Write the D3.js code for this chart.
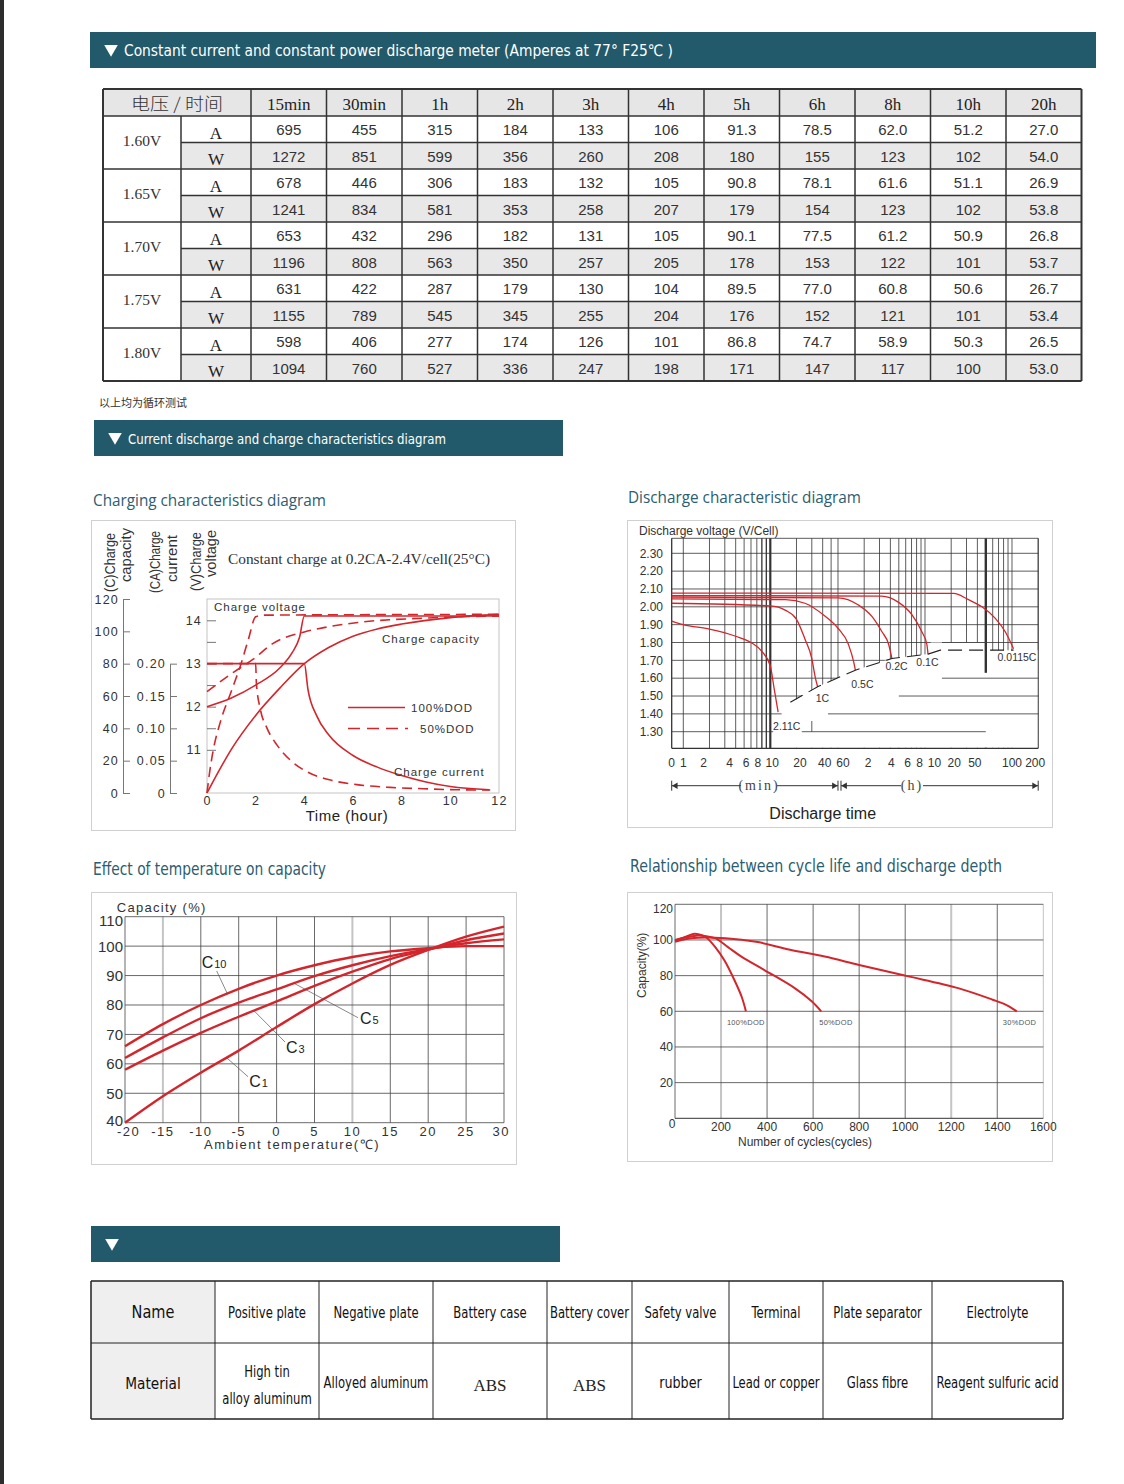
<!DOCTYPE html>
<html>
	<head>
		<meta charset="utf-8">
		<title>Battery discharge and charge characteristics</title>
		<style>
* {
	margin: 0;
	padding: 0;
}
html,
body {
	background-color: #fff;
	width: 1124px;
	height: 1484px;
	overflow: hidden;
}
svg {
	display: block;
}
		</style>
	</head>
	<body>
		<div id="page"></div>
		<script src="https://d3js.org/d3.v7.min.js"></script>
		<script>

// ---- discharge meter table ----
var timeLabels = [ '15min', '30min', '1h', '2h', '3h', '4h', '5h', '6h', '8h', '10h', '20h' ];
var cutoffVoltages = [ '1.60V', '1.65V', '1.70V', '1.75V', '1.80V' ];
var amps = [
	[ '695', '455', '315', '184', '133', '106', '91.3', '78.5', '62.0', '51.2', '27.0' ],
	[ '678', '446', '306', '183', '132', '105', '90.8', '78.1', '61.6', '51.1', '26.9' ],
	[ '653', '432', '296', '182', '131', '105', '90.1', '77.5', '61.2', '50.9', '26.8' ],
	[ '631', '422', '287', '179', '130', '104', '89.5', '77.0', '60.8', '50.6', '26.7' ],
	[ '598', '406', '277', '174', '126', '101', '86.8', '74.7', '58.9', '50.3', '26.5' ]
];
var watts = [
	[ '1272', '851', '599', '356', '260', '208', '180', '155', '123', '102', '54.0' ],
	[ '1241', '834', '581', '353', '258', '207', '179', '154', '123', '102', '53.8' ],
	[ '1196', '808', '563', '350', '257', '205', '178', '153', '122', '101', '53.7' ],
	[ '1155', '789', '545', '345', '255', '204', '176', '152', '121', '101', '53.4' ],
	[ '1094', '760', '527', '336', '247', '198', '171', '147', '117', '100', '53.0' ]
];

// ---- charging characteristics (time in hours) ----
var hourTicks = [ 0, 2, 4, 6, 8, 10, 12 ];
var capTicks = [ 0, 20, 40, 60, 80, 100, 120 ];
var curTicks = [ 0, 0.05, 0.10, 0.15, 0.20 ];
var voltTicks = [ 11, 11.5, 12, 12.5, 13, 13.5, 14 ];
var voltage100 = [ [ 0, 12.0 ], [ 1, 12.2 ], [ 2, 12.5 ], [ 3, 12.9 ], [ 3.5, 13.25 ], [ 3.8, 13.6 ], [ 4, 14.1 ], [ 12, 14.1 ] ];
var current100 = [ [ 0, 0.2 ], [ 4, 0.2 ], [ 4.15, 0.16 ], [ 4.5, 0.12 ], [ 5, 0.09 ], [ 6, 0.058 ], [ 7, 0.04 ], [ 8, 0.027 ], [ 9, 0.017 ], [ 10, 0.01 ], [ 11.6, 0.005 ] ];
var capacity100 = [ [ 0, 0 ], [ 0.5, 14 ], [ 1, 27 ], [ 2, 48 ], [ 3, 65 ], [ 4, 80 ], [ 5, 90 ], [ 6, 97 ], [ 7, 101.5 ], [ 8, 104.5 ], [ 10, 108.5 ], [ 12, 110.5 ] ];
var voltage50 = [ [ 0, 12.35 ], [ 1.1, 12.8 ], [ 1.9, 13.1 ], [ 2.7, 13.46 ], [ 4, 13.73 ], [ 4.8, 13.83 ], [ 6.2, 13.95 ], [ 8.9, 14.05 ], [ 12, 14.1 ] ];
var current50 = [ [ 0, 0.2 ], [ 2, 0.2 ], [ 2.03, 0.17 ], [ 2.19, 0.13 ], [ 2.47, 0.1 ], [ 2.88, 0.074 ], [ 3.42, 0.051 ], [ 4.1, 0.033 ], [ 5.07, 0.02 ], [ 6.16, 0.013 ], [ 7.53, 0.0087 ], [ 8.9, 0.0066 ], [ 10.27, 0.005 ], [ 11.64, 0.0046 ] ];
var capacity50 = [ [ 0, 0 ], [ 0.1, 12 ], [ 0.25, 26 ], [ 0.55, 44 ], [ 1, 63 ], [ 1.4, 80 ], [ 1.7, 95 ], [ 2, 109 ], [ 2.3, 110 ], [ 12, 110.5 ] ];

// ---- discharge characteristics (time in minutes) ----
var dischargeVoltTicks = [ 1.3, 1.4, 1.5, 1.6, 1.7, 1.8, 1.9, 2.0, 2.1, 2.2, 2.3 ];
var minuteLabels = [ 0, 1, 2, 4, 6, 8, 10, 20, 40, 60 ];
var hourLabels = [ 2, 4, 6, 8, 10, 20, 50, 100, 200 ];
var minuteGrid = [ 1, 2, 3, 4, 5, 6, 7, 8, 9, 10, 20, 30, 40, 50 ];
var hourGrid = [ 1, 2, 3, 4, 5, 6, 7, 8, 9, 10, 20, 30, 40, 50, 60, 70, 80, 90, 100 ];
var rateNames = [ '2.11C', '1C', '0.5C', '0.2C', '0.1C', '0.0115C' ];
var rate211 = [ [ 0, 1.92 ], [ 1, 1.90 ], [ 2, 1.875 ], [ 4, 1.835 ], [ 6, 1.80 ], [ 8, 1.75 ], [ 10, 1.67 ], [ 11, 1.55 ], [ 12.3, 1.41 ] ];
var rate1 = [ [ 0, 2.02 ], [ 10, 2.005 ], [ 15, 1.98 ], [ 20, 1.93 ], [ 25, 1.82 ], [ 30, 1.71 ], [ 33, 1.6 ], [ 35, 1.552 ] ];
var rate05 = [ [ 0, 2.045 ], [ 15, 2.04 ], [ 25, 2.02 ], [ 42, 1.95 ], [ 60, 1.88 ], [ 79, 1.79 ], [ 91, 1.69 ], [ 95, 1.645 ] ];
var rate02 = [ [ 0, 2.055 ], [ 60, 2.05 ], [ 103, 2.01 ], [ 148, 1.945 ], [ 192, 1.86 ], [ 229, 1.79 ], [ 250, 1.71 ] ];
var rate01 = [ [ 0, 2.063 ], [ 190, 2.06 ], [ 298, 2.025 ], [ 426, 1.955 ], [ 552, 1.86 ], [ 630, 1.79 ], [ 650, 1.735 ] ];
var rate00115 = [ [ 0, 2.077 ], [ 1280, 2.075 ], [ 1900, 2.04 ], [ 2710, 2.0 ], [ 3860, 1.935 ], [ 5020, 1.86 ], [ 6250, 1.765 ] ];
var cutoffLine = [ [ 17, 1.465 ], [ 35, 1.552 ], [ 95, 1.645 ], [ 250, 1.71 ], [ 650, 1.735 ], [ 900, 1.757 ], [ 6250, 1.757 ] ];

// ---- temperature vs capacity ----
var tempTicks = [ -20, -15, -10, -5, 0, 5, 10, 15, 20, 25, 30 ];
var pctTicks = [ 40, 50, 60, 70, 80, 90, 100, 110 ];
var capC10 = [ [ -20, 66 ], [ -15, 73.5 ], [ -10, 80 ], [ -5, 85.5 ], [ 0, 90 ], [ 5, 93.5 ], [ 10, 96.3 ], [ 15, 98.2 ], [ 20, 99.3 ], [ 25, 100 ], [ 30, 100 ] ];
var capC5 = [ [ -20, 62 ], [ -15, 69 ], [ -10, 75.5 ], [ -5, 80.8 ], [ 0, 85.3 ], [ 5, 89.8 ], [ 10, 93.5 ], [ 15, 96.6 ], [ 20, 99 ], [ 25, 101 ], [ 30, 102.3 ] ];
var capC3 = [ [ -20, 58 ], [ -15, 64.5 ], [ -10, 70.5 ], [ -5, 76 ], [ 0, 81.2 ], [ 5, 86.5 ], [ 10, 91.3 ], [ 15, 95.6 ], [ 20, 98.8 ], [ 25, 102 ], [ 30, 104.3 ] ];
var capC1 = [ [ -20, 40 ], [ -15, 49 ], [ -10, 57 ], [ -5, 64.5 ], [ 0, 72.5 ], [ 5, 80.3 ], [ 10, 87.3 ], [ 15, 93.6 ], [ 20, 98.7 ], [ 25, 103.2 ], [ 30, 106.6 ] ];

// ---- cycle life ----
var cycleTicks = [ 0, 200, 400, 600, 800, 1000, 1200, 1400, 1600 ];
var cyclePctTicks = [ 20, 40, 60, 80, 100, 120 ];
var dod100 = [ [ 0, 99.5 ], [ 50, 102 ], [ 85, 103.5 ], [ 120, 102.5 ], [ 140, 101 ], [ 175, 96 ], [ 215, 88.5 ], [ 260, 77 ], [ 290, 68 ], [ 308, 60 ] ];
var dod50 = [ [ 0, 100 ], [ 50, 101.5 ], [ 100, 102.5 ], [ 140, 102 ], [ 175, 101 ], [ 230, 96 ], [ 290, 90.5 ], [ 390, 83 ], [ 520, 73 ], [ 595, 65.5 ], [ 635, 60 ] ];
var dod30 = [ [ 0, 99 ], [ 70, 101 ], [ 220, 101 ], [ 360, 98.8 ], [ 500, 94.5 ], [ 650, 90.7 ], [ 800, 86 ], [ 1000, 80 ], [ 1230, 73 ], [ 1380, 66.5 ], [ 1440, 63.5 ], [ 1485, 60 ] ];

// ---- materials ----
var partNames = [ 'Positive plate', 'Negative plate', 'Battery case', 'Battery cover', 'Safety valve', 'Terminal', 'Plate separator', 'Electrolyte' ];
var partMaterials = [ 'High tin|alloy aluminum', 'Alloyed aluminum', 'ABS', 'ABS', 'rubber', 'Lead or copper', 'Glass fibre', 'Reagent sulfuric acid' ];


var RED = '#d3262c';
var TEAL = '#225a6b';
var INK = '#2c5d70';
var NARROW = '"Liberation Sans Narrow", "DejaVu Sans Condensed", sans-serif';
var SERIF = '"Liberation Serif", "Times New Roman", "Noto Sans CJK SC", serif';
var SANS = '"Liberation Sans", Arial, sans-serif';

var svg = d3.select( '#page' ).append( 'svg' )
	.attr( 'width', 1124 )
	.attr( 'height', 1484 );

svg.append( 'rect' )
	.attr( 'x', 0 ).attr( 'y', 0 )
	.attr( 'width', 4 ).attr( 'height', 1484 )
	.attr( 'fill', '#2d2d2d' );

function label( g, x, y, str, size, opts ) {
	opts = opts || {};
	var t = g.append( 'text' )
		.attr( 'x', x )
		.attr( 'y', y )
		.attr( 'font-size', size )
		.attr( 'font-family', opts.family || SANS )
		.attr( 'fill', opts.fill || '#222' )
		.attr( 'text-anchor', opts.anchor || 'start' )
		.text( str );
	if ( opts.spacing ) t.attr( 'letter-spacing', opts.spacing );
	if ( opts.len ) t.attr( 'textLength', opts.len ).attr( 'lengthAdjust', 'spacingAndGlyphs' );
	if ( opts.squeeze ) {
		var w = t.node().getComputedTextLength();
		t.attr( 'textLength', w * opts.squeeze ).attr( 'lengthAdjust', 'spacingAndGlyphs' );
	}
	if ( opts.rotate ) t.attr( 'transform', 'rotate(-90,' + x + ',' + y + ')' );
	return t;
}

function sectionBar( x, y, w, title, size, len ) {
	svg.append( 'rect' )
		.attr( 'x', x ).attr( 'y', y )
		.attr( 'width', w ).attr( 'height', 36 )
		.attr( 'fill', TEAL );
	svg.append( 'path' )
		.attr( 'd', d3.symbol( d3.symbolTriangle, 80 )() )
		.attr( 'transform', 'translate(' + ( x + 21 ) + ',' + ( y + 17 ) + ') rotate(180)' )
		.attr( 'fill', '#fff' );
	if ( title ) {
		label( svg, x + 34, y + 23.5, title, size, { family: NARROW, fill: '#fff', len: len } );
	}
}

function box( x, y, w, h ) {
	svg.append( 'rect' )
		.attr( 'x', x ).attr( 'y', y )
		.attr( 'width', w ).attr( 'height', h )
		.attr( 'fill', 'none' )
		.attr( 'stroke', '#d0d0d0' );
}

function styleAxis( g, size, spacing ) {
	g.selectAll( 'text' )
		.attr( 'font-family', SANS )
		.attr( 'font-size', size )
		.attr( 'fill', '#333' )
		.attr( 'letter-spacing', spacing || 0 );
	g.selectAll( 'line' ).attr( 'stroke', '#777' );
	g.select( '.domain' ).attr( 'stroke', '#777' );
}

// =========== top section: discharge meter table ===========
sectionBar( 90, 32, 1006, 'Constant current and constant power discharge meter (Amperes at 77\u00b0  F25\u2103 )', 16, 549 );

var tableX = [ 103, 181, 251 ];
timeLabels.forEach( function ( d, i ) { tableX.push( 251 + ( i + 1 ) * 75.5 ); } );
var tableY = [ 89, 116 ];
for ( var r = 1; r <= 10; r++ ) tableY.push( 116 + r * 26.5 );
var tableRight = tableX[ tableX.length - 1 ];
var tableBottom = tableY[ tableY.length - 1 ];

var tbl = svg.append( 'g' );
tbl.append( 'rect' )
	.attr( 'x', 103 ).attr( 'y', 89 )
	.attr( 'width', tableRight - 103 ).attr( 'height', 27 )
	.attr( 'fill', '#e6e6e6' );
cutoffVoltages.forEach( function ( v, i ) {
	tbl.append( 'rect' )
		.attr( 'x', 181 ).attr( 'y', tableY[ 2 + i * 2 ] )
		.attr( 'width', tableRight - 181 ).attr( 'height', 26.5 )
		.attr( 'fill', '#e8e8e8' );
} );

tableY.forEach( function ( y, k ) {
	var full = k < 2 || k % 2 === 1;
	tbl.append( 'line' )
		.attr( 'x1', full ? 103 : 181 ).attr( 'x2', tableRight )
		.attr( 'y1', y ).attr( 'y2', y )
		.attr( 'stroke', '#333' )
		.attr( 'stroke-width', ( k === 0 || k === tableY.length - 1 ) ? 2 : 1.5 );
} );
tableX.forEach( function ( x, k ) {
	tbl.append( 'line' )
		.attr( 'x1', x ).attr( 'x2', x )
		.attr( 'y1', k === 1 ? 116 : 89 ).attr( 'y2', tableBottom )
		.attr( 'stroke', '#333' )
		.attr( 'stroke-width', ( k === 0 || k === tableX.length - 1 ) ? 2 : 1.5 );
} );

label( tbl, 177, 110, '\u7535\u538b / \u65f6\u95f4', 17, { family: '"Noto Sans CJK SC", serif', anchor: 'middle', fill: '#333', len: 92 } )
	.attr( 'font-weight', 300 );
timeLabels.forEach( function ( d, i ) {
	label( tbl, ( tableX[ i + 2 ] + tableX[ i + 3 ] ) / 2, 110, d, 17, { family: SERIF, anchor: 'middle', fill: '#222' } );
} );
cutoffVoltages.forEach( function ( v, i ) {
	var top = tableY[ 1 + i * 2 ];
	label( tbl, 142, top + 29.5, v, 15.5, { family: SERIF, anchor: 'middle', fill: '#333' } );
	label( tbl, 216, top + 22.5, 'A', 17, { family: SERIF, anchor: 'middle', fill: '#222' } );
	label( tbl, 216, top + 26.5 + 22, 'W', 17, { family: SERIF, anchor: 'middle', fill: '#222' } );
	amps[ i ].forEach( function ( d, j ) {
		label( tbl, ( tableX[ j + 2 ] + tableX[ j + 3 ] ) / 2, top + 19, d, 15, { anchor: 'middle', fill: '#333' } );
	} );
	watts[ i ].forEach( function ( d, j ) {
		label( tbl, ( tableX[ j + 2 ] + tableX[ j + 3 ] ) / 2, top + 26.5 + 19.2, d, 15, { anchor: 'middle', fill: '#333' } );
	} );
} );

label( svg, 99, 407, '\u4ee5\u4e0a\u5747\u4e3a\u5faa\u73af\u6d4b\u8bd5', 11, { family: '"Noto Sans CJK SC", sans-serif', fill: '#333' } );

// =========== section 2 ===========
sectionBar( 94, 420, 469, 'Current discharge and charge characteristics diagram', 14.5, 318 );

label( svg, 93, 506, 'Charging characteristics diagram', 17, { family: '"Open Sans", sans-serif', fill: INK, len: 233 } );
label( svg, 628, 503, 'Discharge characteristic diagram', 17, { family: '"Open Sans", sans-serif', fill: INK, len: 233 } );
label( svg, 93, 875, 'Effect of temperature on capacity', 17, { family: NARROW, fill: INK, len: 233 } );
label( svg, 630, 872, 'Relationship between cycle life and discharge depth', 17, { family: NARROW, fill: INK, len: 372 } );

box( 91.5, 520.5, 424, 310 );
box( 627.5, 520.5, 425, 307 );
box( 91.5, 892.5, 425, 272 );
box( 627.5, 892.5, 425, 269 );

// ---------- charging characteristics ----------
var c1 = svg.append( 'g' );
var xHour = d3.scaleLinear().domain( [ 0, 12 ] ).range( [ 207, 499 ] );
var yCap = d3.scaleLinear().domain( [ 0, 120 ] ).range( [ 793, 599 ] );
var yCur = d3.scaleLinear().domain( [ 0, 0.2 ] ).range( [ 793, yCap( 80 ) ] );
var yVolt = d3.scaleLinear().domain( [ 10, 14 ] ).range( [ 793, 620.3 ] );

c1.append( 'rect' )
	.attr( 'x', xHour( 0 ) ).attr( 'y', yCap( 120 ) )
	.attr( 'width', xHour( 12 ) - xHour( 0 ) ).attr( 'height', yCap( 0 ) - yCap( 120 ) )
	.attr( 'fill', 'none' )
	.attr( 'stroke', '#c4c4c4' );

var capAxis = c1.append( 'g' )
	.attr( 'transform', 'translate(123,0)' )
	.call( d3.axisRight( yCap ).tickValues( capTicks ).tickSize( 7 ).tickSizeOuter( 0 ) );
capAxis.selectAll( 'text' ).attr( 'x', -4 ).attr( 'text-anchor', 'end' );
styleAxis( capAxis, 12.5, 1.2 );

var curAxis = c1.append( 'g' )
	.attr( 'transform', 'translate(170,0)' )
	.call( d3.axisRight( yCur ).tickValues( curTicks ).tickSize( 7 ).tickSizeOuter( 0 ).tickFormat( function ( d ) { return d === 0 ? '0' : d3.format( '.2f' )( d ); } ) );
curAxis.selectAll( 'text' ).attr( 'x', -4 ).attr( 'text-anchor', 'end' );
styleAxis( curAxis, 12.5, 1.2 );

var voltAxis = c1.append( 'g' )
	.attr( 'transform', 'translate(207,0)' )
	.call( d3.axisRight( yVolt ).tickValues( voltTicks ).tickSize( 9 ).tickFormat( function ( d ) { return d % 1 ? '' : d; } ) );
voltAxis.select( '.domain' ).remove();
voltAxis.selectAll( 'text' ).attr( 'x', -5 ).attr( 'text-anchor', 'end' );
styleAxis( voltAxis, 12.5, 1.2 );

var timeAxis = c1.append( 'g' )
	.attr( 'transform', 'translate(0,793)' )
	.call( d3.axisBottom( xHour ).tickValues( hourTicks ).tickSize( 0 ) );
timeAxis.select( '.domain' ).remove();
styleAxis( timeAxis, 12.5, 1.2 );

var axisTitles = [
	[ 115, 592, '(C)Charge', 59 ], [ 131, 582, 'capacity', 54 ],
	[ 160, 593, '(CA)Charge', 62 ], [ 177, 582, 'current', 47 ],
	[ 201, 591, '(V)Charge', 59 ], [ 216, 577, 'voltage', 47 ]
];
axisTitles.forEach( function ( d ) {
	label( c1, d[ 0 ], d[ 1 ], d[ 2 ], 14, { fill: '#333', rotate: true, len: d[ 3 ] } );
} );
label( c1, 228, 564, 'Constant charge at 0.2CA-2.4V/cell(25\u00b0C)', 14, { family: SERIF, fill: '#333', len: 262 } );

var chargeSeries = [
	{ data: capacity100, y: yCap, dash: null },
	{ data: voltage100, y: yVolt, dash: null },
	{ data: current100, y: yCur, dash: null },
	{ data: capacity50, y: yCap, dash: '10,6' },
	{ data: voltage50, y: yVolt, dash: '10,6' },
	{ data: current50, y: yCur, dash: '10,6' }
];
chargeSeries.forEach( function ( s ) {
	var line = d3.line()
		.x( function ( d ) { return xHour( d[ 0 ] ); } )
		.y( function ( d ) { return s.y( d[ 1 ] ); } )
		.curve( d3.curveMonotoneX );
	c1.append( 'path' )
		.attr( 'd', line( s.data ) )
		.attr( 'fill', 'none' )
		.attr( 'stroke', RED )
		.attr( 'stroke-width', 1.6 )
		.attr( 'stroke-dasharray', s.dash );
} );

c1.append( 'line' ).attr( 'x1', 348 ).attr( 'x2', 405 ).attr( 'y1', 707.5 ).attr( 'y2', 707.5 )
	.attr( 'stroke', RED ).attr( 'stroke-width', 1.6 );
c1.append( 'line' ).attr( 'x1', 348 ).attr( 'x2', 408 ).attr( 'y1', 728.5 ).attr( 'y2', 728.5 )
	.attr( 'stroke', RED ).attr( 'stroke-width', 1.6 ).attr( 'stroke-dasharray', '12,7' );
label( c1, 411, 711.5, '100%DOD', 11.5, { fill: '#333', spacing: 1 } );
label( c1, 420, 733, '50%DOD', 11.5, { fill: '#333', spacing: 1 } );
label( c1, 214, 611, 'Charge voltage', 11.5, { fill: '#333', spacing: 1 } );
label( c1, 382, 643, 'Charge capacity', 11.5, { fill: '#333', spacing: 1 } );
label( c1, 394, 776, 'Charge current', 11.5, { fill: '#333', spacing: 1 } );
label( c1, 347, 821, 'Time (hour)', 15, { fill: '#222', anchor: 'middle', spacing: 0.5 } );

// ---------- discharge characteristics ----------
var c2 = svg.append( 'g' );
var minuteLog = d3.scaleLog().domain( [ 1, 10 ] ).range( [ 683.3, 770.3 ] );
var hourLog = d3.scaleLog().domain( [ 1, 10 ] ).range( [ minuteLog( 60 ), minuteLog( 60 ) + 87 ] );
function xTime( m ) {
	if ( m <= 1 ) return 671.7 + ( minuteLog( 1 ) - 671.7 ) * m;
	if ( m <= 60 ) return minuteLog( m );
	return hourLog( m / 60 );
}
var yDis = d3.scaleLinear().domain( [ 1.3, 2.3 ] ).range( [ 731.7, 553.3 ] );
var disLeft = xTime( 0 ), disRight = xTime( 12000 );

function gridH( v, m0, m1, w ) {
	c2.append( 'line' )
		.attr( 'x1', m0 === null ? disLeft : xTime( m0 ) ).attr( 'x2', m1 === null ? disRight : xTime( m1 ) )
		.attr( 'y1', yDis( v ) ).attr( 'y2', yDis( v ) )
		.attr( 'stroke', '#333' ).attr( 'stroke-width', w || 0.8 );
}
function gridV( m, v0, v1, w ) {
	c2.append( 'line' )
		.attr( 'x1', xTime( m ) ).attr( 'x2', xTime( m ) )
		.attr( 'y1', yDis( v0 ) ).attr( 'y2', yDis( v1 ) )
		.attr( 'stroke', '#333' ).attr( 'stroke-width', w || 0.8 );
}

dischargeVoltTicks.forEach( function ( v ) { gridH( v, null, null ); } );
gridH( 2.384, null, null );
minuteGrid.forEach( function ( m ) {
	gridV( m, 1.207, 2.384, m === 10 ? 2.2 : ( m === 8 || m === 9 ) ? 1.3 : 0.8 );
} );
hourGrid.forEach( function ( h ) {
	gridV( h * 60, 1.207, 2.384, h === 50 ? 2.4 : 0.8 );
} );
gridV( 12000, 1.207, 2.384 );

// white area under the end-voltage line, as in the printed chart
var maskArea = [ [ 10.8, 1.46 ], [ 17.6, 1.465 ], [ 35, 1.552 ], [ 95, 1.645 ], [ 250, 1.71 ], [ 650, 1.735 ], [ 700, 1.8 ], [ 3000, 1.8 ], [ 3000, 1.757 ], [ 12000, 1.757 ], [ 12000, 1.21 ], [ 10.8, 1.21 ] ];
c2.append( 'path' )
	.attr( 'd', d3.line().x( function ( d ) { return xTime( d[ 0 ] ); } ).y( function ( d ) { return yDis( d[ 1 ] ); } )( maskArea ) + 'Z' )
	.attr( 'fill', '#fff' );
gridH( 1.3, 23, 3000 );
gridH( 1.4, 10.8, 13.5 );
gridH( 1.4, 46, null );
gridH( 1.5, 300, null );
gridH( 1.6, 940, null );
gridH( 1.8, 940, 3000 );
gridV( 3000, 1.8, 1.63, 2.4 );
gridV( 30, 1.3, 1.36 );
gridV( 12000, 1.207, 2.384 );
gridH( 1.207, null, null, 1.3 );
gridV( 0, 1.207, 2.384, 1.3 );

var rates = [ rate211, rate1, rate05, rate02, rate01, rate00115 ];
var rateLabelOffsets = [ [ -5, 18 ], [ -2, 15 ], [ -4, 17.5 ], [ -6.5, 11.7 ], [ -11.7, 11.6 ], [ -16, 12 ] ];
var disLine = d3.line()
	.x( function ( d ) { return xTime( d[ 0 ] ); } )
	.y( function ( d ) { return yDis( d[ 1 ] ); } )
	.curve( d3.curveMonotoneX );
rates.forEach( function ( s, i ) {
	c2.append( 'path' )
		.attr( 'd', disLine( s ) )
		.attr( 'fill', 'none' )
		.attr( 'stroke', RED )
		.attr( 'stroke-width', 1.3 );
	var end = s[ s.length - 1 ];
	label( c2, xTime( end[ 0 ] ) + rateLabelOffsets[ i ][ 0 ], yDis( end[ 1 ] ) + rateLabelOffsets[ i ][ 1 ], rateNames[ i ], 10.5, { fill: '#333' } );
} );
c2.append( 'path' )
	.attr( 'd', d3.line().x( function ( d ) { return xTime( d[ 0 ] ); } ).y( function ( d ) { return yDis( d[ 1 ] ); } )( cutoffLine ) )
	.attr( 'fill', 'none' )
	.attr( 'stroke', '#222' )
	.attr( 'stroke-width', 1.1 )
	.attr( 'stroke-dasharray', '14,7' );

dischargeVoltTicks.forEach( function ( v ) {
	label( c2, 663, yDis( v ) + 4.3, v.toFixed( 2 ), 12, { anchor: 'end', fill: '#333' } );
} );
label( c2, 639, 535, 'Discharge voltage (V/Cell)', 12, { fill: '#333' } );

// label nudges follow the printed axis, which is not a strict log scale
var minuteNudge = [ 0, 0, -6, -6, -5, -4, 2, 3.5, 2, 5 ];
var hourNudge = [ 4, 1, 2, 3, 9.5, 3, -11, 0, -3 ];
minuteLabels.forEach( function ( m, i ) {
	label( c2, xTime( m ) + minuteNudge[ i ], 767, m, 12, { anchor: 'middle', fill: '#333' } );
} );
hourLabels.forEach( function ( h, i ) {
	label( c2, xTime( h * 60 ) + hourNudge[ i ], 767, h, 12, { anchor: 'middle', fill: '#333' } );
} );

function arrowHead( x, y, dir ) {
	c2.append( 'path' )
		.attr( 'd', d3.symbol( d3.symbolTriangle, 18 )() )
		.attr( 'transform', 'translate(' + x + ',' + y + ') rotate(' + dir + ')' )
		.attr( 'fill', '#333' );
}
var arrowY = 785.7;
var spans = [
	[ disLeft, 741, 777, xTime( 60 ) ],
	[ xTime( 60 ) + 3, 901, 923, disRight ]
];
spans.forEach( function ( s ) {
	c2.append( 'line' ).attr( 'x1', s[ 0 ] ).attr( 'x2', s[ 1 ] ).attr( 'y1', arrowY ).attr( 'y2', arrowY ).attr( 'stroke', '#333' );
	c2.append( 'line' ).attr( 'x1', s[ 2 ] ).attr( 'x2', s[ 3 ] ).attr( 'y1', arrowY ).attr( 'y2', arrowY ).attr( 'stroke', '#333' );
	c2.append( 'line' ).attr( 'x1', s[ 0 ] ).attr( 'x2', s[ 0 ] ).attr( 'y1', arrowY - 5 ).attr( 'y2', arrowY + 5 ).attr( 'stroke', '#333' );
	c2.append( 'line' ).attr( 'x1', s[ 3 ] ).attr( 'x2', s[ 3 ] ).attr( 'y1', arrowY - 5 ).attr( 'y2', arrowY + 5 ).attr( 'stroke', '#333' );
	arrowHead( s[ 0 ] + 4, arrowY, -90 );
	arrowHead( s[ 3 ] - 4, arrowY, 90 );
} );
label( c2, 759, arrowY + 4.5, '(min)', 14, { family: SERIF, anchor: 'middle', fill: '#444', spacing: 2 } );
label( c2, 912, arrowY + 4.5, '(h)', 14, { family: SERIF, anchor: 'middle', fill: '#444', spacing: 2 } );
label( c2, 822.7, 819, 'Discharge time', 16, { anchor: 'middle', fill: '#222' } );

// ---------- temperature vs capacity ----------
var c3 = svg.append( 'g' );
var xTemp = d3.scaleLinear().domain( [ -20, 30 ] ).range( [ 125, 504 ] );
var yPct = d3.scaleLinear().domain( [ 40, 110 ] ).range( [ 1122.7, 916.7 ] );

tempTicks.forEach( function ( t ) {
	var light = t === -15 || t === 10;
	c3.append( 'line' )
		.attr( 'x1', xTemp( t ) ).attr( 'x2', xTemp( t ) )
		.attr( 'y1', yPct( 40 ) ).attr( 'y2', yPct( 110 ) )
		.attr( 'stroke', light ? '#c4c4c4' : '#444' )
		.attr( 'stroke-width', light ? 2 : 0.8 );
} );
pctTicks.forEach( function ( p ) {
	c3.append( 'line' )
		.attr( 'x1', xTemp( -20 ) ).attr( 'x2', xTemp( 30 ) )
		.attr( 'y1', yPct( p ) ).attr( 'y2', yPct( p ) )
		.attr( 'stroke', '#444' )
		.attr( 'stroke-width', 0.8 );
	var shift = p === 110 ? 9.5 : ( p === 40 ? 3 : 5.5 );
	label( c3, 123, yPct( p ) + shift, p, 15, { anchor: 'end', fill: '#333' } );
} );
tempTicks.forEach( function ( t, i ) {
	var anchor = i === 0 ? 'start' : ( i === tempTicks.length - 1 ? 'end' : 'middle' );
	var x = i === 0 ? 117 : ( i === tempTicks.length - 1 ? 510 : xTemp( t ) );
	label( c3, x, 1136, t, 13, { anchor: anchor, fill: '#333', spacing: 1.5 } );
} );
label( c3, 116.7, 912, 'Capacity (%)', 13, { fill: '#333', spacing: 1.3 } );
label( c3, 292, 1148.5, 'Ambient temperature(\u2103)', 13, { anchor: 'middle', fill: '#333', spacing: 1.5 } );

var tempLine = d3.line()
	.x( function ( d ) { return xTemp( d[ 0 ] ); } )
	.y( function ( d ) { return yPct( d[ 1 ] ); } )
	.curve( d3.curveMonotoneX );
[ capC10, capC5, capC3, capC1 ].forEach( function ( s ) {
	c3.append( 'path' )
		.attr( 'd', tempLine( s ) )
		.attr( 'fill', 'none' )
		.attr( 'stroke', RED )
		.attr( 'stroke-width', 2.4 );
} );

function valueAt( series, x ) {
	for ( var i = 0; i < series.length - 1; i++ ) {
		if ( x >= series[ i ][ 0 ] && x <= series[ i + 1 ][ 0 ] ) {
			var f = ( x - series[ i ][ 0 ] ) / ( series[ i + 1 ][ 0 ] - series[ i ][ 0 ] );
			return series[ i ][ 1 ] + f * ( series[ i + 1 ][ 1 ] - series[ i ][ 1 ] );
		}
	}
	return series[ series.length - 1 ][ 1 ];
}
var tempLabels = [
	{ sub: '10', series: capC10, at: -6.5, tx: 201.7, ty: 968.3, fx: 216.7, fy: 971 },
	{ sub: '5', series: capC5, at: 2.3, tx: 360, ty: 1024.3, fx: 358, fy: 1017.7 },
	{ sub: '3', series: capC3, at: -3.0, tx: 286, ty: 1053.3, fx: 285, fy: 1042 },
	{ sub: '1', series: capC1, at: -6.6, tx: 249.3, ty: 1087.3, fx: 248, fy: 1076.7 }
];
tempLabels.forEach( function ( d ) {
	c3.append( 'line' )
		.attr( 'x1', d.fx ).attr( 'y1', d.fy )
		.attr( 'x2', xTemp( d.at ) ).attr( 'y2', yPct( valueAt( d.series, d.at ) ) )
		.attr( 'stroke', '#555' )
		.attr( 'stroke-width', 0.7 );
	var t = c3.append( 'text' )
		.attr( 'x', d.tx ).attr( 'y', d.ty )
		.attr( 'font-family', SANS )
		.attr( 'fill', '#222' );
	t.append( 'tspan' ).attr( 'font-size', 16 ).text( 'C' );
	t.append( 'tspan' ).attr( 'font-size', 11 ).attr( 'dx', 1 ).text( d.sub );
} );

// ---------- cycle life ----------
var c4 = svg.append( 'g' );
var xCyc = d3.scaleLinear().domain( [ 0, 1600 ] ).range( [ 675, 1043.3 ] );
var yCyc = d3.scaleLinear().domain( [ 0, 120 ] ).range( [ 1118.3, 904.3 ] );

cycleTicks.forEach( function ( c ) {
	var light = c === 200 || c === 1200 || c === 1600;
	c4.append( 'line' )
		.attr( 'x1', xCyc( c ) ).attr( 'x2', xCyc( c ) )
		.attr( 'y1', yCyc( 0 ) ).attr( 'y2', yCyc( 120 ) )
		.attr( 'stroke', light ? '#c4c4c4' : '#444' )
		.attr( 'stroke-width', c === 1600 ? 1 : ( light ? 2 : 0.8 ) );
	label( c4, xCyc( c ) - ( c === 0 ? 3 : 0 ), c === 0 ? 1128 : 1131, c, 12, { anchor: 'middle', fill: '#333' } );
} );
cyclePctTicks.forEach( function ( p ) {
	c4.append( 'line' )
		.attr( 'x1', xCyc( 0 ) ).attr( 'x2', xCyc( 1600 ) )
		.attr( 'y1', yCyc( p ) ).attr( 'y2', yCyc( p ) )
		.attr( 'stroke', '#444' )
		.attr( 'stroke-width', 0.8 );
	label( c4, 673, yCyc( p ) + ( p === 120 ? 9 : 4.5 ), p, 12, { anchor: 'end', fill: '#333' } );
} );
c4.append( 'line' )
	.attr( 'x1', xCyc( 0 ) ).attr( 'x2', xCyc( 1600 ) )
	.attr( 'y1', yCyc( 0 ) ).attr( 'y2', yCyc( 0 ) )
	.attr( 'stroke', '#333' );
label( c4, 805, 1146, 'Number of cycles(cycles)', 12, { anchor: 'middle', fill: '#333' } );
label( c4, 646, 998, 'Capacity(%)', 12, { fill: '#333', rotate: true } );

var cycLine = d3.line()
	.x( function ( d ) { return xCyc( d[ 0 ] ); } )
	.y( function ( d ) { return yCyc( d[ 1 ] ); } )
	.curve( d3.curveCatmullRom );
var dodSeries = [ dod100, dod50, dod30 ];
var dodNames = [ '100%DOD', '50%DOD', '30%DOD' ];
var dodLabelShift = [ -19, -2, -14 ];
dodSeries.forEach( function ( s, i ) {
	c4.append( 'path' )
		.attr( 'd', cycLine( s ) )
		.attr( 'fill', 'none' )
		.attr( 'stroke', RED )
		.attr( 'stroke-width', 2 );
	var end = s[ s.length - 1 ];
	label( c4, xCyc( end[ 0 ] ) + dodLabelShift[ i ], yCyc( end[ 1 ] ) + 14, dodNames[ i ], 7.5, { fill: '#555', spacing: 0.3 } );
} );

// =========== materials ===========
sectionBar( 91, 1226, 469, null );

var matX = [ 91, 215, 319, 433, 547, 632, 729, 823, 932, 1063 ];
var matY = [ 1281, 1343, 1419 ];
var mat = svg.append( 'g' );
mat.append( 'rect' )
	.attr( 'x', matX[ 0 ] ).attr( 'y', matY[ 0 ] )
	.attr( 'width', matX[ 1 ] - matX[ 0 ] ).attr( 'height', matY[ 2 ] - matY[ 0 ] )
	.attr( 'fill', '#efefef' );
matY.forEach( function ( y, k ) {
	mat.append( 'line' )
		.attr( 'x1', matX[ 0 ] ).attr( 'x2', matX[ matX.length - 1 ] )
		.attr( 'y1', y ).attr( 'y2', y )
		.attr( 'stroke', '#222' )
		.attr( 'stroke-width', k === 1 ? 1 : 1.5 );
} );
matX.forEach( function ( x, k ) {
	mat.append( 'line' )
		.attr( 'x1', x ).attr( 'x2', x )
		.attr( 'y1', matY[ 0 ] ).attr( 'y2', matY[ 2 ] )
		.attr( 'stroke', '#222' )
		.attr( 'stroke-width', ( k === 0 || k === matX.length - 1 ) ? 1.5 : 1 );
} );
var cond = { family: NARROW, anchor: 'middle', fill: '#111', squeeze: 0.86 };
label( mat, ( matX[ 0 ] + matX[ 1 ] ) / 2, 1318, 'Name', 17, { family: NARROW, anchor: 'middle', fill: '#111', squeeze: 0.95 } );
label( mat, ( matX[ 0 ] + matX[ 1 ] ) / 2, 1389, 'Material', 16, { family: NARROW, anchor: 'middle', fill: '#111', squeeze: 0.95 } );
partNames.forEach( function ( d, i ) {
	label( mat, ( matX[ i + 1 ] + matX[ i + 2 ] ) / 2, 1318, d, 15, cond );
} );
partMaterials.forEach( function ( d, i ) {
	var cx = ( matX[ i + 1 ] + matX[ i + 2 ] ) / 2;
	if ( d === 'ABS' ) {
		label( mat, cx, 1391, d, 17, { family: SERIF, anchor: 'middle', fill: '#222' } );
	} else if ( d.indexOf( '|' ) > -1 ) {
		var parts = d.split( '|' );
		label( mat, cx, 1377, parts[ 0 ], 15, cond );
		label( mat, cx, 1404, parts[ 1 ], 15, cond );
	} else {
		label( mat, cx, 1388, d, d === 'rubber' ? 16.5 : 15, cond );
	}
} );

		</script>
	</body>
</html>
